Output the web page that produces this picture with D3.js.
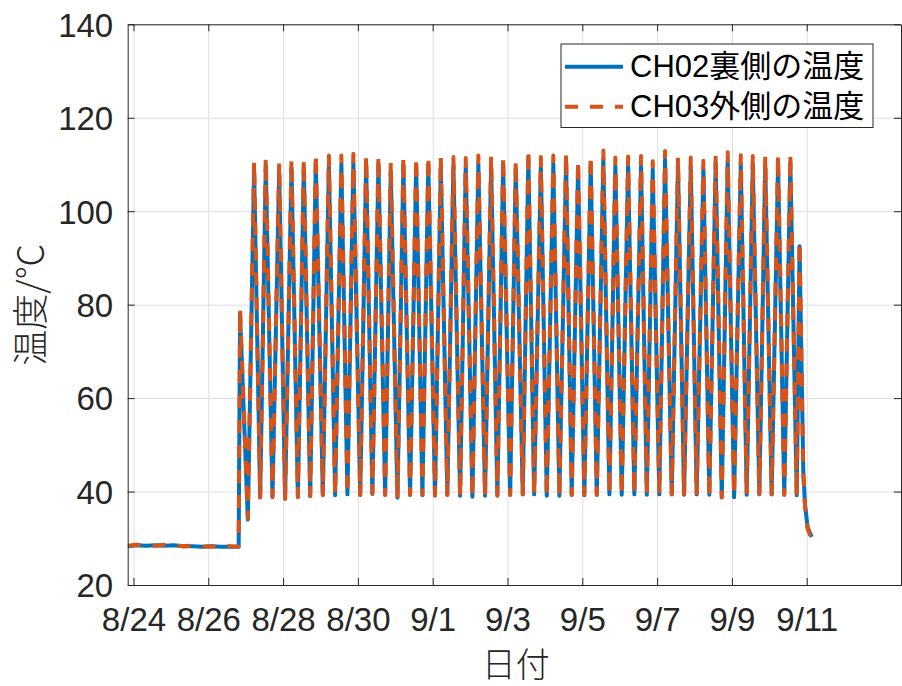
<!DOCTYPE html>
<html><head><meta charset="utf-8">
<script src="https://cdn.jsdelivr.net/npm/d3@7"></script>
<style>body{margin:0;background:#fff}svg{display:block}</style>
</head><body>
<svg id="chart" width="902" height="686"></svg>
<script>
// ---------- data (hours since 8/24 00:00, °C) ----------
const seriesNames = ["CH02裏側の温度", "CH03外側の温度"];
const xTickDates = ["2023-08-24","2023-08-26","2023-08-28","2023-08-30","2023-09-01","2023-09-03","2023-09-05","2023-09-07","2023-09-09","2023-09-11"];
const yTicks = [20, 40, 60, 80, 100, 120, 140];

const flatHours = [-3.7, 2, 8, 14, 20, 26, 32, 38, 44, 50, 56, 62, 67.5];
const flatCH02  = [28.3, 28.5, 28.4, 28.5, 28.4, 28.5, 28.3, 28.3, 28.2, 28.3, 28.2, 28.2, 28.2];
const flatCH03  = [28.4, 28.6, 28.5, 28.4, 28.6, 28.5, 28.3, 28.4, 28.2, 28.3, 28.2, 28.3, 28.2];

const startupHours = [68.4, 73.4];
const startupCH02  = [78.0, 34.0];
const startupCH03  = [79.0, 34.3];

const peakHours = [77.4, 84.9, 93.5, 101.4, 109.3, 117.0, 125.4, 133.4, 141.1, 149.3, 157.2, 165.1, 173.2, 181.4, 189.2,
  197.2, 205.3, 213.2, 221.3, 229.5, 237.2, 245.3, 253.4, 261.4, 269.4, 277.6, 285.3, 293.4, 301.5, 309.2,
  317.4, 325.7, 333.2, 341.1, 349.4, 357.6, 365.7, 373.6, 381.3, 389.7, 397.4, 405.4, 413.6, 421.5, 427.4];
const peakCH02 = [109.0, 109.6, 108.7, 109.3, 109.4, 110.5, 110.1, 110.2, 110.6, 110.1, 110.2, 108.6, 110.0, 109.8, 110.1,
  109.9, 109.8, 109.7, 110.2, 110.0, 110.1, 109.2, 111.4, 109.9, 110.2, 110.8, 109.3, 110.2, 111.3, 109.8,
  110.0, 110.0, 109.0, 111.1, 109.8, 109.7, 109.1, 110.4, 110.8, 110.3, 110.1, 110.0, 110.3, 110.5, 92.5];
const peakCH03 = [110.6, 111.4, 110.4, 111.1, 111.1, 112.3, 111.9, 111.9, 112.3, 111.9, 111.9, 110.4, 111.7, 111.6, 111.8,
  111.6, 111.6, 111.4, 111.9, 111.7, 111.8, 110.9, 113.2, 111.6, 111.9, 112.5, 111.0, 112.0, 113.0, 111.5,
  111.7, 111.8, 110.7, 112.9, 111.5, 111.5, 110.8, 112.1, 112.6, 112.0, 111.8, 111.7, 112.1, 112.2, 93.5];

const troughHours = [81.3, 89.2, 97.3, 105.5, 113.4, 121.5, 129.4, 137.3, 145.5, 153.3, 161.5, 169.4, 177.5, 185.4, 193.5,
  201.4, 209.6, 217.5, 225.6, 233.5, 241.7, 249.8, 257.1, 265.2, 273.3, 281.2, 289.3, 297.3, 305.4, 313.3,
  321.4, 329.4, 337.4, 345.4, 353.3, 361.4, 369.5, 377.5, 385.4, 393.5, 401.6, 409.5, 417.6, 425.6];
const troughCH02 = [38.9, 38.9, 38.6, 38.9, 39.1, 39.3, 39.2, 39.4, 39.3, 39.5, 39.3, 38.7, 39.3, 39.2, 39.2,
  39.3, 39.1, 38.9, 39.1, 39.2, 39.3, 39.4, 39.4, 39.1, 39.1, 39.3, 39.2, 39.3, 39.4, 39.3,
  39.4, 39.3, 39.4, 39.4, 39.3, 39.4, 39.3, 38.9, 38.8, 39.3, 39.4, 39.4, 39.4, 39.2];
const troughCH03 = [38.7, 38.8, 38.4, 38.8, 39.0, 39.25, 39.25, 39.4, 39.25, 39.6, 39.25, 38.5, 39.25, 39.25, 39.1,
  39.25, 39.0, 38.8, 39.1, 39.1, 39.25, 39.4, 39.4, 39.0, 39.1, 39.25, 39.25, 39.25, 39.5, 39.25,
  39.5, 39.4, 39.4, 39.4, 39.4, 39.25, 38.7, 38.7, 39.25, 39.4, 39.5, 39.4, 39.25, 39.1];

const coolHours = [429.8, 430.9, 432.6, 435.2];
const coolCH02  = [44.5, 37.2, 32.3, 30.3];
const coolCH03  = [44.0, 36.8, 32.0, 29.8];

const xDomainHours = [-3.7, 492.5];
const yDomain = [20, 140];

// ---------- helpers ----------
const base = new Date(2023, 7, 24, 0, 0, 0);
const toDate = h => new Date(base.getTime() + h * 3600000);
const parseDay = d3.timeParse("%Y-%m-%d");

function buildSeries(flat, startup, peaks, troughs, cool) {
  const pts = [];
  flatHours.forEach((h, i) => pts.push([h, flat[i]]));
  startupHours.forEach((h, i) => pts.push([h, startup[i]]));
  peakHours.forEach((h, i) => {
    pts.push([h, peaks[i]]);
    if (i < troughHours.length) pts.push([troughHours[i], troughs[i]]);
  });
  coolHours.forEach((h, i) => pts.push([h, cool[i]]));
  return pts.map(p => ({date: toDate(p[0]), value: p[1]}));
}
const ch02 = buildSeries(flatCH02, startupCH02, peakCH02, troughCH02, coolCH02);
const ch03 = buildSeries(flatCH03, startupCH03, peakCH03, troughCH03, coolCH03);

// ---------- layout ----------
const L = 127.7, T = 24.3, R = 901, B = 585;
const W = R - L, H = B - T;
const textColor = "#262626";
const blue = "#0072BD", orange = "#D95319";
const tickFont = "'Liberation Sans', Arial, Helvetica, sans-serif";
const cjkFont = "'Liberation Sans', Arial, 'Noto Sans CJK JP', sans-serif";
const dash = "13,12";
const lw = 4;

const svg = d3.select("#chart");
const x = d3.scaleTime().domain(xDomainHours.map(toDate)).range([L, R]);
const y = d3.scaleLinear().domain(yDomain).range([B, T]);
const xTickVals = xTickDates.map(parseDay);
const fmt = d3.timeFormat("%-m/%-d");

// grid
const gx = svg.append("g").attr("transform", `translate(0,${B})`)
  .call(d3.axisBottom(x).tickValues(xTickVals).tickSize(-H).tickFormat(""));
gx.select(".domain").remove();
gx.selectAll("line").attr("stroke", "#dfdfdf").attr("stroke-width", 1);
const gy = svg.append("g").attr("transform", `translate(${L},0)`)
  .call(d3.axisLeft(y).tickValues(yTicks).tickSize(-W).tickFormat(""));
gy.select(".domain").remove();
gy.selectAll("line").attr("stroke", "#dfdfdf").attr("stroke-width", 1);

// lines
svg.append("clipPath").attr("id", "clip").append("rect")
  .attr("x", L).attr("y", T).attr("width", W).attr("height", H);
const line = d3.line().x(d => x(d.date)).y(d => y(d.value)).curve(d3.curveLinear);
const plot = svg.append("g").attr("clip-path", "url(#clip)");
plot.append("path").datum(ch02).attr("d", line)
  .attr("fill", "none").attr("stroke", blue).attr("stroke-width", lw).attr("stroke-linejoin", "round");
plot.append("path").datum(ch03).attr("d", line)
  .attr("fill", "none").attr("stroke", orange).attr("stroke-width", lw)
  .attr("stroke-dasharray", dash).attr("stroke-linejoin", "round");

// axes (box with inward ticks)
function styleAxis(g) {
  g.select(".domain").attr("stroke", textColor).attr("stroke-width", 1);
  g.selectAll(".tick line").attr("stroke", textColor).attr("stroke-width", 1);
}
const xb = svg.append("g").attr("transform", `translate(0,${B})`)
  .call(d3.axisBottom(x).tickValues(xTickVals).tickFormat(fmt).tickSizeInner(-7).tickSizeOuter(0).tickPadding(0));
styleAxis(xb);
xb.selectAll(".tick text").attr("y", 46).attr("dy", null)
  .attr("fill", textColor).style("font-family", tickFont).style("font-size", "33px");

const xt = svg.append("g").attr("transform", `translate(0,${T})`)
  .call(d3.axisTop(x).tickValues(xTickVals).tickFormat("").tickSizeInner(-7).tickSizeOuter(0));
styleAxis(xt);

const yl = svg.append("g").attr("transform", `translate(${L},0)`)
  .call(d3.axisLeft(y).tickValues(yTicks).tickSizeInner(-7).tickSizeOuter(0).tickPadding(0));
styleAxis(yl);
yl.selectAll(".tick text").attr("x", -14.5).attr("dy", "0.36em")
  .attr("fill", textColor).style("font-family", tickFont).style("font-size", "33px");

const yr = svg.append("g").attr("transform", `translate(${R},0)`)
  .call(d3.axisRight(y).tickValues(yTicks).tickFormat("").tickSizeInner(-7).tickSizeOuter(0));
styleAxis(yr);

// axis labels
svg.append("text").attr("x", (L + R) / 2 + 1.5).attr("y", 662)
  .attr("text-anchor", "middle").attr("dominant-baseline", "central")
  .attr("fill", textColor).style("font-family", "'Noto Sans CJK JP', sans-serif")
  .style("font-size", "34px").style("font-weight", 300).text("日付");
svg.append("text").attr("transform", `translate(28,${(T + B) / 2}) rotate(-90)`)
  .attr("text-anchor", "middle").attr("dominant-baseline", "central")
  .attr("fill", textColor).style("font-family", "'Noto Sans CJK JP', sans-serif")
  .style("font-size", "36px").style("font-weight", 300).text("温度/℃");

// legend
const lg = svg.append("g");
lg.append("rect").attr("x", 561).attr("y", 44).attr("width", 312).attr("height", 83.5)
  .attr("fill", "#fff").attr("stroke", textColor).attr("stroke-width", 1);
const legendRows = [
  {name: seriesNames[0], color: blue, dash: null, cy: 66.7},
  {name: seriesNames[1], color: orange, dash: dash, cy: 106.7}
];
legendRows.forEach(r => {
  lg.append("line").attr("x1", 565).attr("x2", 623).attr("y1", r.cy).attr("y2", r.cy)
    .attr("stroke", r.color).attr("stroke-width", lw).attr("stroke-dasharray", r.dash);
  lg.append("text").attr("x", 630).attr("y", r.cy).attr("dominant-baseline", "central")
    .attr("fill", "#000").style("font-family", cjkFont).style("font-size", "31px").text(r.name);
});
</script>
</body></html>
